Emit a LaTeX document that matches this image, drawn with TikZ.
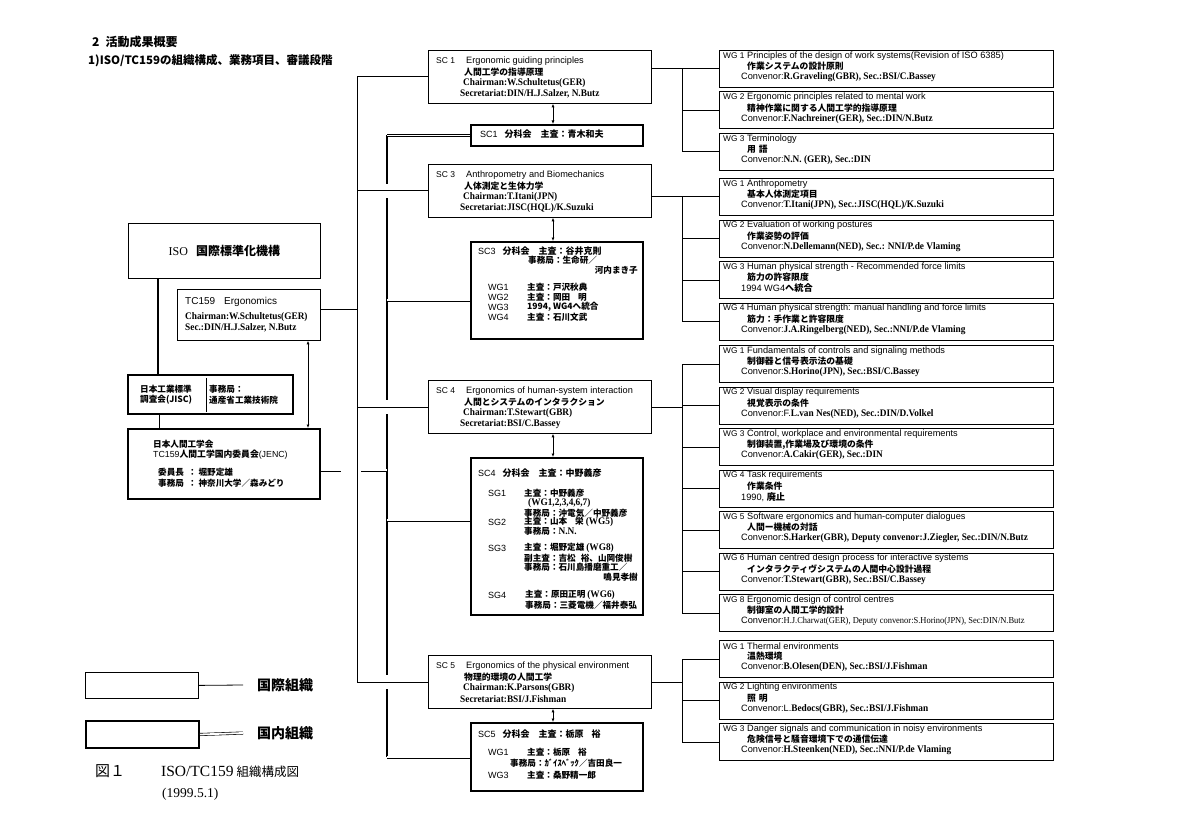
\documentclass[tikz,border=0pt]{standalone}
\usepackage{fontspec}
\setmainfont{Liberation Serif}
\newfontfamily\ar{Liberation Sans}
\newfontfamily\nm{Liberation Serif}[FakeStretch=0.93]
\newfontfamily\jp{Noto Sans CJK JP}
\usetikzlibrary{arrows.meta,calc}
\newcommand\J[1]{{\jp\bfseries #1}}
\newcommand\N[1]{{\nm\bfseries\fontsize{10}{11}\selectfont #1}}
\newcommand\wg[5]{%
  \node[thinbox,anchor=north west,minimum width=334,minimum height=37] (#1) at (719,#2) {};
  \node[txt] (#1a) at (723,#2+6) {#3};
  \node[jtxt] (#1b) at (747,#2+16.5) {#4};
  \node[txt] (#1c) at (741,#2+27.5) {#5};
}
\newcommand\scbox[7]{%
  \node[thinbox,anchor=north west,minimum width=223,minimum height=53] (#1) at (428,#2) {};
  \node[txt] (#1a) at (436,#2+11) {\makebox[30pt][l]{\fontsize{8.5}{9}\selectfont #3}#4};
  \node[jtxt] (#1b) at (464,#2+22) {#5};
  \node[ntxt] (#1c) at (463,#2+33) {#6};
  \node[ntxt] (#1d) at (460,#2+44) {#7};
}
\newcommand\WG[1]{\makebox[24pt][l]{\fontsize{8.3}{9}\selectfont #1}}
\begin{document}
\begin{tikzpicture}[x=1pt,y=-1pt,
  thinbox/.style={draw,line width=0.8pt,fill=white,inner sep=0pt},
  thickbox/.style={draw,line width=2pt,fill=white,inner sep=0pt},
  conn/.style={line width=0.8pt},
  dbl/.style={double,double distance=1.8pt,line width=0.6pt},
  thk/.style={line width=2.2pt},
  txt/.style={anchor=west,inner sep=0pt,font=\ar\fontsize{9.2}{10}\selectfont},
  jtxt/.style={anchor=west,inner sep=0pt,font=\jp\bfseries\fontsize{8.8}{9}\selectfont},
  ntxt/.style={anchor=west,inner sep=0pt,font=\nm\bfseries\fontsize{10}{11}\selectfont},
  stxt/.style={anchor=west,inner sep=0pt,font=\ar\fontsize{9}{9}\selectfont},
  sjtxt/.style={anchor=west,inner sep=0pt,font=\jp\bfseries\fontsize{8.6}{9}\selectfont},
  biarrow/.style={conn,{Latex[length=3.5pt,width=3pt]}-{Latex[length=3.5pt,width=3pt]}},
]
\fill[white] (0,0) rectangle (1200,840);
\useasboundingbox (0,0) rectangle (1200,840);

% ---------- header
\node[anchor=west,inner sep=0pt,font=\jp\bfseries\fontsize{12}{13}\selectfont] (h1) at (92,42) {2\hspace{6pt}活動成果概要};
\node[anchor=west,inner sep=0pt,font=\jp\bfseries\fontsize{11.5}{12}\selectfont] (h2) at (88,61) {1)ISO/TC159の組織構成、業務項目、審議段階};

% ---------- coordinates for trunk lines
\coordinate (vt1) at (357,0);
\coordinate (vt2) at (387,0);
\coordinate (vw) at (682,0);

% ---------- SC boxes
\scbox{sc1}{50}{SC 1}{Ergonomic guiding principles}{人間工学の指導原理}{Chairman:W.Schultetus(GER)}{Secretariat:DIN/H.J.Salzer, N.Butz}
\scbox{sc3}{164}{SC 3}{Anthropometry and Biomechanics}{人体測定と生体力学}{Chairman:T.Itani(JPN)}{Secretariat:JISC(HQL)/K.Suzuki}
\scbox{sc4}{380}{SC 4}{Ergonomics of human-system interaction}{人間とシステムのインタラクション}{Chairman:T.Stewart(GBR)}{Secretariat:BSI/C.Bassey}
\scbox{sc5}{655}{SC 5}{Ergonomics of the physical environment}{物理的環境の人間工学}{Chairman:K.Parsons(GBR)}{Secretariat:BSI/J.Fishman}

% ---------- national sub-committee boxes
\node[thickbox,anchor=north west,minimum width=172,minimum height=21] (s1) at (470,124) {};
\node[stxt] (s1t) at (480,134.5) {SC1\hspace{7pt}\J{分科会}\hspace{9pt}\J{主査：青木和夫}};

\node[thickbox,anchor=north west,minimum width=172,minimum height=97] (s3) at (470,241) {};
\node[stxt] (s3t) at (478,251) {SC3\hspace{7pt}\J{分科会}\hspace{9pt}\J{主査：谷井克則}};
\node[sjtxt] (s3t2) at (528,260.5) {事務局：生命研／};
\node[sjtxt,anchor=east] (s3t3) at (638,270) {河内まき子};
\node[stxt] (s3g1) at (488,287) {WG1};
\node[sjtxt] (s3v1) at (527,287) {主査：戸沢秋典};
\node[stxt] (s3g2) at (488,297) {WG2};
\node[sjtxt] (s3v2) at (527,297) {主査：岡田\hspace{8pt}明};
\node[stxt] (s3g3) at (488,307) {WG3};
\node[sjtxt] (s3v3) at (527,307) {1994,\ WG4へ統合};
\node[stxt] (s3g4) at (488,317) {WG4};
\node[sjtxt] (s3v4) at (527,317) {主査：石川文武};

\node[thickbox,anchor=north west,minimum width=172,minimum height=157] (s4) at (470,457) {};
\node[stxt] (s4t) at (478,473) {SC4\hspace{7pt}\J{分科会}\hspace{9pt}\J{主査：中野義彦}};
\node[stxt] (s4g1) at (488,493) {SG1};
\node[sjtxt] (s4v1) at (524,493) {主査：中野義彦};
\node[ntxt] (s4v1b) at (528,503) {(WG1,2,3,4,6,7)};
\node[sjtxt] (s4v1c) at (524,513) {事務局：沖電気／中野義彦};
\node[stxt] (s4g2) at (488,522) {SG2};
\node[sjtxt] (s4v2) at (524,522) {主査：山本\hspace{8pt}栄\ \N{(WG5)}};
\node[sjtxt] (s4v2b) at (524,531) {事務局：\N{N.N.}};
\node[stxt] (s4g3) at (488,548) {SG3};
\node[sjtxt] (s4v3) at (524,548) {主査：堀野定雄\ \N{(WG8)}};
\node[sjtxt] (s4v3b) at (524,558) {副主査：吉松\hspace{5pt}裕、山岡俊樹};
\node[sjtxt] (s4v3c) at (524,567) {事務局：石川島播磨重工／};
\node[sjtxt,anchor=east] (s4v3d) at (638,577) {鳴見孝樹};
\node[stxt] (s4g4) at (488,595) {SG4};
\node[sjtxt] (s4v4) at (525,595) {主査：原田正明\ \N{(WG6)}};
\node[sjtxt] (s4v4b) at (525,605) {事務局：三菱電機／福井泰弘};

\node[thickbox,anchor=north west,minimum width=172,minimum height=68] (s5) at (470,722) {};
\node[stxt] (s5t) at (478,734) {SC5\hspace{7pt}\J{分科会}\hspace{9pt}\J{主査：栃原\hspace{8pt}裕}};
\node[stxt] (s5g1) at (488,752) {WG1};
\node[sjtxt] (s5v1) at (527,752) {主査：栃原\hspace{8pt}裕};
\node[sjtxt] (s5v1b) at (510,763) {事務局：ｶﾞｲｽﾍﾞｯｸ／吉田良一};
\node[stxt] (s5g3) at (488,775) {WG3};
\node[sjtxt] (s5v3) at (527,775) {主査：桑野精一郎};

% ---------- arrows SC <-> national
\draw[biarrow] (sc1.south -| 553,0) -- (s1.north -| 553,0);
\draw[biarrow] (sc3.south -| 553,0) -- (s3.north -| 553,0);
\draw[biarrow] (sc4.south -| 553,0) -- (s4.north -| 553,0);
\draw[biarrow] (sc5.south -| 553,0) -- (s5.north -| 553,0);

% ---------- WG boxes
\wg{w11}{50}{\WG{WG 1}Principles of the design of work systems(Revision of ISO 6385)}{作業システムの設計原則}{Convenor:\N{R.Graveling(GBR), Sec.:BSI/C.Bassey}}
\wg{w12}{91.5}{\WG{WG 2}Ergonomic principles related to mental work}{精神作業に関する人間工学的指導原理}{Convenor:\N{F.Nachreiner(GER), Sec.:DIN/N.Butz}}
\wg{w13}{133}{\WG{WG 3}Terminology}{用\hspace{3pt}語}{Convenor:\N{N.N. (GER), Sec.:DIN}}

\wg{w31}{178}{\WG{WG 1}Anthropometry}{基本人体測定項目}{Convenor:\N{T.Itani(JPN), Sec.:JISC(HQL)/K.Suzuki}}
\wg{w32}{219.5}{\WG{WG 2}Evaluation of working postures}{作業姿勢の評価}{Convenor:\N{N.Dellemann(NED), Sec.: NNI/P.de Vlaming}}
\wg{w33}{261}{\WG{WG 3}Human physical strength - Recommended force limits}{筋力の許容限度}{1994 WG4\J{へ統合}}
\wg{w34}{302.5}{{\fontsize{8.3}{9}\selectfont WG 4} Human physical strength: manual handling and force limits}{筋力：手作業と許容限度}{Convenor:\N{J.A.Ringelberg(NED), Sec.:NNI/P.de Vlaming}}

\wg{w41}{345}{\WG{WG 1}Fundamentals of controls and signaling methods}{制御器と信号表示法の基礎}{Convenor:\N{S.Horino(JPN), Sec.:BSI/C.Bassey}}
\wg{w42}{386.5}{\WG{WG 2}Visual display requirements}{視覚表示の条件}{Convenor:F.\N{L.van Nes(NED), Sec.:DIN/D.Volkel}}
\wg{w43}{428}{\WG{WG 3}Control, workplace and environmental requirements}{制御装置,作業場及び環境の条件}{Convenor:\N{A.Cakir(GER), Sec.:DIN}}
\wg{w44}{469.5}{\WG{WG 4}Task requirements}{作業条件}{1990, \J{廃止}}
\wg{w45}{511}{\WG{WG 5}Software ergonomics and human-computer dialogues}{人間ー機械の対話}{Convenor:\N{S.Harker(GBR), Deputy convenor:J.Ziegler, Sec.:DIN/N.Butz}}
\wg{w46}{552.5}{\WG{WG 6}Human centred design process for interactive systems}{インタラクティヴシステムの人間中心設計過程}{Convenor:\N{T.Stewart(GBR), Sec.:BSI/C.Bassey}}
\wg{w48}{594}{\WG{WG 8}Ergonomic design of control centres}{制御室の人間工学的設計}{Convenor:{\nm\fontsize{9.1}{9}\selectfont H.J.Charwat(GER), Deputy convenor:S.Horino(JPN), Sec:DIN/N.Butz}}

\wg{w51}{640}{\WG{WG 1}Thermal environments}{温熱環境}{Convenor:\N{B.Olesen(DEN), Sec.:BSI/J.Fishman}}
\wg{w52}{681.5}{\WG{WG 2}Lighting environments}{照\hspace{3pt}明}{Convenor:L.\N{Bedocs(GBR), Sec.:BSI/J.Fishman}}
\wg{w53}{723}{\WG{WG 3}Danger signals and communication in noisy environments}{危険信号と騒音環境下での通信伝達}{Convenor:\N{H.Steenken(NED), Sec.:NNI/P.de Vlaming}}

% ---------- WG connectors
\draw[conn] (sc1.east |- w11.west) -- (w11.west);
\draw[conn] (w11.west -| vw) -- (w13.west -| vw) -- (w13.west);
\draw[conn] (w12.west -| vw) -- (w12.west);

\draw[conn] (sc3.east |- w31.west) -- (w31.west);
\draw[conn] (w31.west -| vw) -- (w34.west -| vw) -- (w34.west);
\draw[conn] (w32.west -| vw) -- (w32.west);
\draw[conn] (w33.west -| vw) -- (w33.west);

\draw[conn] (sc4.east) -- (sc4.east -| vw);
\draw[conn] (w41.west) -- (w41.west -| vw) -- (w48.west -| vw) -- (w48.west);
\foreach \w in {w42,w43,w44,w45,w46}{\draw[conn] (\w.west -| vw) -- (\w.west);}

\draw[conn] (sc5.east) -- (sc5.east -| vw);
\draw[conn] (w51.west) -- (w51.west -| vw) -- (w53.west -| vw) -- (w53.west);
\draw[conn] (w52.west -| vw) -- (w52.west);

% ---------- left organisation boxes
\node[thinbox,anchor=north west,minimum width=192,minimum height=55] (iso) at (128,223) {};
\node[anchor=center,inner sep=0pt] (isot) at (iso.center) {{\fontsize{12}{14}\selectfont ISO}\hspace{8pt}{\jp\bfseries\fontsize{12}{14}\selectfont 国際標準化機構}};

\node[thinbox,anchor=north west,minimum width=143,minimum height=51] (tc) at (177,289) {};
\node[anchor=west,inner sep=0pt,font=\ar\fontsize{10}{10}\selectfont] (tct1) at (185,302) {TC159\hspace{9pt}Ergonomics};
\node[ntxt] (tct2) at (185,317) {Chairman:W.Schultetus(GER)};
\node[ntxt] (tct3) at (185,327.5) {Sec.:DIN/H.J.Salzer, N.Butz};

\node[thickbox,anchor=north west,minimum width=165,minimum height=39] (jisc) at (127,374) {};
\node[sjtxt] (jisct1) at (140,389) {日本工業標準};
\node[sjtxt] (jisct2) at (140,400) {調査会(JISC)};
\node[sjtxt] (jisct3) at (209,389) {事務局：};
\node[sjtxt] (jisct4) at (209,400) {通産省工業技術院};
\draw[conn] ($(jisc.north west)+(79,4)$) coordinate (dv1) -- ($(jisc.south west)+(79,-3)$) coordinate (dv2);

\node[thickbox,anchor=north west,minimum width=192,minimum height=70] (jenc) at (127,428) {};
\node[sjtxt] (jt1) at (153,444) {日本人間工学会};
\node[anchor=west,inner sep=0pt] (jt2) at (153,454.5) {{\ar\fontsize{8.8}{9}\selectfont TC159}{\jp\bfseries\fontsize{8.8}{9}\selectfont 人間工学国内委員会}{\ar\fontsize{8.8}{9}\selectfont (JENC)}};
\node[sjtxt] (jt3) at (158,472) {委員長\hspace{4pt}：\hspace{2pt}堀野定雄};
\node[sjtxt] (jt4) at (158,483) {事務局\hspace{4pt}：\hspace{2pt}神奈川大学／森みどり};

\draw[line width=2.6pt] (iso.south -| 158,0) -- (jisc.north -| 158,0);
\draw[dbl] (jisc.south -| 158,0) -- (jenc.north -| 158,0);
\draw[biarrow] (tc.south -| 308,0) -- (jenc.north -| 308,0);

% ---------- trunk lines
\coordinate (d3) at (0,300);
\coordinate (d4) at (0,520);
\draw[thk] (s1.west -| vt2) -- (s5.west -| vt2);
\foreach \b in {sc3,sc4,sc5}{\fill[white] ($(\b.west -| vt2)+(-3,-7)$) rectangle ($(\b.west -| vt2)+(3,7)$);}
\draw[conn] (sc1.west) -- (sc1.west -| vt1) -- (sc5.west -| vt1) -- (sc5.west);
\draw[conn] (sc3.west -| vt1) -- (sc3.west);
\draw[conn] (sc4.west -| vt1) -- (sc4.west);
\draw[conn] ($(tc.north east)+(0,20)$) coordinate (tce) -- (tce -| vt1);

\draw[dbl] (s1.west -| vt2) -- (s1.west);
\draw[dbl] (d3 -| vt2) -- (d3 -| s3.west);
\draw[dbl] (d4 -| vt2) -- (d4 -| s4.west);
\draw[dbl] (s5.west -| vt2) -- (s5.west);
\coordinate (jy) at (0,470);
\draw[dbl] (jenc.east |- jy) -- ($(jy -| vt1)+(-16,0)$);
\draw[dbl] ($(jy -| vt1)+(4,0)$) -- (jy -| vt2);

% ---------- legend
\node[thinbox,anchor=north west,minimum width=113,minimum height=26] (lg1) at (85,672) {};
\node[thickbox,anchor=north west,minimum width=113,minimum height=27] (lg2) at (85,720) {};
\node[anchor=west,inner sep=0pt,font=\jp\bfseries\fontsize{14}{15}\selectfont] (lt1) at (257,685) {国際組織};
\node[anchor=west,inner sep=0pt,font=\jp\bfseries\fontsize{14}{15}\selectfont] (lt2) at (257,733) {国内組織};
\draw[conn] (lg1.east) -- ($(lt1.west)+(-14,0)$);
\draw[dbl] (lg2.east) -- ($(lt2.west)+(-14,0)$);

% ---------- title
\node[anchor=west,inner sep=0pt] (title) at (95,771) {{\jp\fontsize{15}{16}\selectfont 図１}\hspace{36pt}{\fontsize{15.5}{16}\selectfont ISO/TC159}\hspace{3pt}{\jp\fontsize{12.5}{16}\selectfont 組織構成図}};
\node[anchor=west,inner sep=0pt,font=\fontsize{13.5}{15}\selectfont] (date) at (162,794) {(1999.5.1)};
\end{tikzpicture}
\end{document}
